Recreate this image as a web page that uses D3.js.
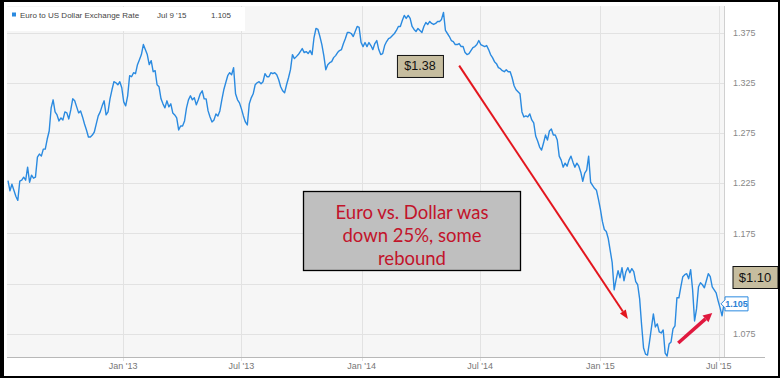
<!DOCTYPE html>
<html>
<head>
<meta charset="utf-8">
<script src="https://cdn.jsdelivr.net/npm/d3@7"></script>
<style>
  body { margin: 0; background: #fff; }
  svg { display: block; font-family: "Liberation Sans", Arial, sans-serif; }
</style>
</head>
<body>
<svg width="780" height="378"></svg>
<script>
// EUR/USD, one reading every 3 days from Jul 9 '12 to Jul 9 '15
var startDate = new Date(2012, 6, 9)
var endDate = new Date(2015, 6, 9)
var stepDays = 3

var rate = [
  1.2275,1.2175,1.224,1.218,1.212,1.208,1.227,1.228,1.231,1.228,
  1.241,1.226,1.233,1.230,1.231,1.251,1.254,1.252,1.259,1.259,
  1.269,1.277,1.300,1.308,1.296,1.293,1.287,1.290,1.288,1.296,
  1.295,1.289,1.298,1.309,1.307,1.301,1.295,1.297,1.291,1.284,
  1.278,1.271,1.271,1.273,1.276,1.284,1.292,1.296,1.302,1.307,
  1.293,1.296,1.309,1.318,1.326,1.325,1.323,1.326,1.320,1.306,
  1.302,1.312,1.332,1.331,1.335,1.334,1.343,1.348,1.353,1.363,
  1.358,1.353,1.343,1.347,1.336,1.337,1.323,1.321,1.309,1.304,
  1.300,1.307,1.301,1.304,1.295,1.293,1.290,1.278,1.282,1.282,
  1.287,1.300,1.308,1.312,1.308,1.310,1.303,1.308,1.314,1.317,
  1.309,1.309,1.297,1.291,1.286,1.288,1.294,1.292,1.297,1.308,
  1.318,1.325,1.332,1.335,1.333,1.340,1.314,1.308,1.305,1.299,
  1.292,1.286,1.283,1.304,1.310,1.314,1.323,1.325,1.326,1.324,
  1.326,1.334,1.331,1.331,1.335,1.334,1.335,1.333,1.328,1.321,
  1.317,1.315,1.323,1.330,1.338,1.353,1.349,1.351,1.353,1.356,
  1.359,1.355,1.356,1.354,1.357,1.353,1.370,1.379,1.378,1.371,
  1.363,1.352,1.338,1.343,1.345,1.346,1.350,1.352,1.355,1.357,
  1.358,1.364,1.369,1.375,1.375,1.374,1.371,1.376,1.381,1.380,
  1.365,1.361,1.365,1.361,1.365,1.362,1.358,1.364,1.367,1.358,
  1.353,1.354,1.362,1.366,1.369,1.370,1.372,1.374,1.377,1.381,
  1.381,1.387,1.392,1.389,1.392,1.389,1.381,1.378,1.376,1.379,
  1.377,1.375,1.381,1.385,1.383,1.386,1.384,1.383,1.384,1.386,
  1.386,1.388,1.395,1.377,1.374,1.371,1.367,1.366,1.363,1.363,
  1.364,1.361,1.361,1.355,1.353,1.354,1.357,1.360,1.361,1.363,
  1.367,1.363,1.362,1.361,1.362,1.358,1.353,1.350,1.346,1.344,
  1.340,1.339,1.337,1.336,1.338,1.336,1.336,1.330,1.322,1.318,
  1.316,1.314,1.296,1.291,1.292,1.291,1.294,1.288,1.285,1.272,
  1.267,1.261,1.258,1.265,1.273,1.268,1.277,1.279,1.273,1.273,
  1.268,1.252,1.248,1.241,1.245,1.242,1.248,1.252,1.246,1.241,
  1.245,1.242,1.236,1.227,1.235,1.238,1.252,1.226,1.223,1.220,
  1.218,1.209,1.199,1.187,1.179,1.177,1.170,1.158,1.146,1.119,
  1.129,1.138,1.131,1.141,1.128,1.137,1.141,1.136,1.140,1.137,
  1.127,1.124,1.110,1.084,1.061,1.055,1.054,1.067,1.081,1.095,
  1.082,1.085,1.077,1.076,1.079,1.056,1.053,1.065,1.067,1.080,
  1.083,1.111,1.111,1.122,1.132,1.134,1.135,1.130,1.139,1.119,
  1.088,1.100,1.122,1.126,1.124,1.121,1.128,1.135,1.132,1.122,
  1.119,1.116,1.108,1.101,1.093,1.105
]

var yTicks = [1.075, 1.125, 1.175, 1.225, 1.275, 1.325, 1.375]
var xTickDates = ["2013-01-01", "2013-07-01", "2014-01-01", "2014-07-01", "2015-01-01", "2015-07-01"]
var xTickLabels = ["Jan '13", "Jul '13", "Jan '14", "Jul '14", "Jan '15", "Jul '15"]

var seriesName = "Euro to US Dollar Exchange Rate"
var lastLabel = "Jul 9 '15"
var lastValue = 1.105

var noteLines = ["Euro vs. Dollar was", "down 25%, some", "rebound"]
var peakNote = "$1.38"
var nowNote = "$1.10"

var parseDay = d3.timeParse("%Y-%m-%d")
var data = rate.map((v, i) => ({date: d3.timeDay.offset(startDate, i * stepDays), value: v}))

var plot = {left: 7, right: 724, top: 6, bottom: 357}

var x = d3.scaleTime().domain([startDate, endDate]).range([8, 724])
var y = d3.scaleLinear().domain([1.075, 1.375]).range([334, 32.5])

var svg = d3.select("svg")

svg.append("rect").attr("width", 780).attr("height", 378).attr("fill", "#fff")

// plot background
svg.append("rect")
  .attr("x", plot.left).attr("y", plot.top)
  .attr("width", plot.right - plot.left).attr("height", plot.bottom - plot.top)
  .attr("fill", "#f6f6f6")

// horizontal grid
svg.append("g").selectAll("line")
  .data(yTicks)
  .enter().append("line")
  .attr("x1", plot.left).attr("x2", plot.right)
  .attr("y1", d => Math.round(y(d)) + .5).attr("y2", d => Math.round(y(d)) + .5)
  .attr("stroke", "#e2e2e2")

// vertical grid
svg.append("g").selectAll("line")
  .data(xTickDates)
  .enter().append("line")
  .attr("x1", d => Math.round(x(parseDay(d))) + .5).attr("x2", d => Math.round(x(parseDay(d))) + .5)
  .attr("y1", plot.top).attr("y2", plot.bottom + 4)
  .attr("stroke", "#e2e2e2")

// plot right edge and bottom axis
svg.append("line")
  .attr("x1", plot.right + .5).attr("x2", plot.right + .5)
  .attr("y1", plot.top).attr("y2", plot.bottom)
  .attr("stroke", "#d0d0d0")
svg.append("line")
  .attr("x1", plot.left).attr("x2", 765)
  .attr("y1", plot.bottom + .5).attr("y2", plot.bottom + .5)
  .attr("stroke", "#b8b8b8")

// axis labels
svg.append("g").selectAll("text")
  .data(yTicks)
  .enter().append("text")
  .attr("x", 733).attr("y", d => y(d) + 3)
  .attr("font-size", 9).attr("fill", "#888")
  .text(d => d3.format(".3f")(d))

svg.append("g").selectAll("text")
  .data(xTickDates)
  .enter().append("text")
  .attr("x", d => x(parseDay(d))).attr("y", 369)
  .attr("text-anchor", "middle")
  .attr("font-size", 9).attr("fill", "#777")
  .text((d, i) => xTickLabels[i])

// the rate line
svg.append("path")
  .datum(data)
  .attr("fill", "none")
  .attr("stroke", "#2a8ae0")
  .attr("stroke-width", 1.4)
  .attr("stroke-linejoin", "round")
  .attr("d", d3.line().x(d => x(d.date)).y(d => y(d.value)))

// legend strip
svg.append("rect")
  .attr("x", plot.left).attr("y", plot.top + 1)
  .attr("width", 238).attr("height", 24)
  .attr("fill", "#fff")
svg.append("rect")
  .attr("x", 12).attr("y", 12.5).attr("width", 4).attr("height", 4)
  .attr("fill", "#2a8ae0")
var legend = svg.append("g").attr("font-size", 8).attr("fill", "#444")
legend.append("text").attr("x", 20).attr("y", 18).text(seriesName)
legend.append("text").attr("x", 157).attr("y", 18).text(lastLabel)
legend.append("text").attr("x", 211).attr("y", 18).text(d3.format(".3f")(lastValue))

// last value tag
var ty = y(lastValue)
svg.append("path")
  .attr("d", `M${plot.right - 3},${ty} L${plot.right + 1},${ty - 4} L${plot.right + 1},${ty - 7} L${plot.right + 24},${ty - 7} L${plot.right + 24},${ty + 7} L${plot.right + 1},${ty + 7} L${plot.right + 1},${ty + 4} Z`)
  .attr("fill", "#fff").attr("stroke", "#2a8ae0").attr("stroke-width", 1)
svg.append("text")
  .attr("x", plot.right + 12.5).attr("y", ty + 3.5)
  .attr("text-anchor", "middle")
  .attr("font-size", 9).attr("font-weight", "bold").attr("fill", "#2a7fd4")
  .text(d3.format(".3f")(lastValue))

// arrows
function arrow(d1, v1, d2, v2, color, w, headLen, headW) {
  var x1 = x(parseDay(d1)), y1 = y(v1), x2 = x(parseDay(d2)), y2 = y(v2)
  var a = Math.atan2(y2 - y1, x2 - x1)
  var bx = x2 - headLen * Math.cos(a), by = y2 - headLen * Math.sin(a)
  svg.append("line")
    .attr("x1", x1).attr("y1", y1).attr("x2", bx).attr("y2", by)
    .attr("stroke", color).attr("stroke-width", w)
  var s = Math.sin(a) * headW / 2, c = Math.cos(a) * headW / 2
  svg.append("path")
    .attr("d", `M${x2},${y2} L${bx + s},${by - c} L${bx - s},${by + c} Z`)
    .attr("fill", color)
}
arrow("2014-05-30", 1.342, "2015-02-12", 1.090, "#e3161e", 2, 9, 7)
arrow("2015-04-30", 1.066, "2015-06-21", 1.096, "#e0183e", 3.5, 9, 9)

// callout boxes
function tag(cx, cy, w, h, label, size) {
  svg.append("rect")
    .attr("x", cx - w / 2 + .5).attr("y", cy - h / 2 + .5)
    .attr("width", w).attr("height", h)
    .attr("fill", "#c6bd9f").attr("stroke", "#111").attr("stroke-width", 1)
  svg.append("text")
    .attr("x", cx).attr("y", cy + size * .36)
    .attr("text-anchor", "middle")
    .attr("font-size", size).attr("fill", "#111")
    .text(label)
}
tag(x(parseDay("2014-03-31")), y(1.3417), 46, 22, peakNote, 12.5)
tag(755, 277, 45, 22, nowNote, 13)

var nb = {x: 303.5, y: 191.5, w: 217, h: 79}
svg.append("rect")
  .attr("x", nb.x).attr("y", nb.y).attr("width", nb.w).attr("height", nb.h)
  .attr("fill", "#bfbfbf").attr("stroke", "#000").attr("stroke-width", 1.3)
svg.append("g").selectAll("text")
  .data(noteLines)
  .enter().append("text")
  .attr("x", nb.x + nb.w / 2).attr("y", (d, i) => nb.y + 27 + i * 23.3)
  .attr("text-anchor", "middle")
  .attr("font-family", "Lato, 'Open Sans', sans-serif")
  .attr("font-size", 18.5).attr("fill", "#c2142b")
  .text(d => d)

// outer frame
svg.append("rect")
  .attr("x", 1).attr("y", 1).attr("width", 778).attr("height", 376)
  .attr("fill", "none").attr("stroke", "#000").attr("stroke-width", 2)
svg.append("rect").attr("x", 0).attr("y", 0).attr("width", 4).attr("height", 378).attr("fill", "#000")
</script>
</body>
</html>
